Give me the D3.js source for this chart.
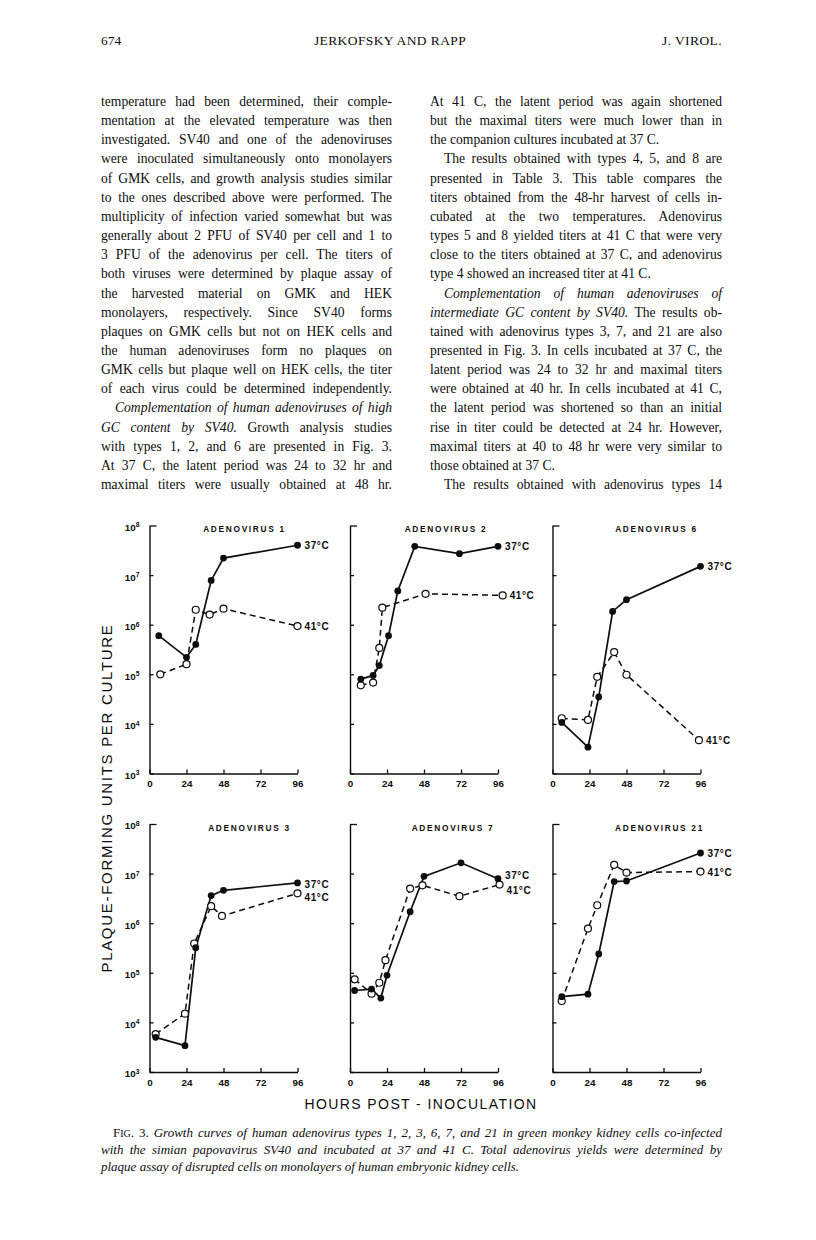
<!DOCTYPE html>
<html><head><meta charset="utf-8">
<script src="https://cdn.jsdelivr.net/npm/d3@7"></script>
<style>body{margin:0;background:#fff}svg{display:block}</style>
</head><body>
<svg id="page" width="816" height="1240"></svg>
<script>
// ---------------- DATA ----------------
const xTicks = [0, 24, 48, 72, 96];
const yTicks = [1e3, 1e4, 1e5, 1e6, 1e7, 1e8];
const panelTitles = ["ADENOVIRUS 1", "ADENOVIRUS 2", "ADENOVIRUS 6", "ADENOVIRUS 3", "ADENOVIRUS 7", "ADENOVIRUS 21"];
const seriesNames = ["37°C", "41°C"];

// [hours post-inoculation, PFU per culture]
const ad1_37 = [[6, 6e5], [24, 2.2e5], [30, 4e5], [40, 7.8e6], [48, 2.2e7], [96, 4e7]];
const ad1_41 = [[7, 1e5], [24, 1.6e5], [30, 2e6], [39, 1.6e6], [48, 2.1e6], [96, 9.4e5]];
const ad2_37 = [[7, 8e4], [15, 9.5e4], [19, 1.5e5], [25, 6e5], [31, 4.8e6], [42, 3.8e7], [71, 2.7e7], [96, 3.8e7]];
const ad2_41 = [[7, 6e4], [15, 6.8e4], [19, 3.4e5], [21, 2.2e6], [49, 4.2e6], [99, 3.9e6]];
const ad6_37 = [[6, 1.07e4], [23, 3.4e3], [30, 3.5e4], [39, 1.85e6], [48, 3.2e6], [96, 1.5e7]];
const ad6_41 = [[6, 1.3e4], [23, 1.2e4], [29, 8.9e4], [40, 2.8e5], [48, 9.8e4], [95, 4.7e3]];
const ad3_37 = [[4, 5e3], [23, 3.4e3], [30, 3.2e5], [40, 3.6e6], [48, 4.6e6], [96, 6.5e6]];
const ad3_41 = [[4, 5.8e3], [23, 1.5e4], [29, 3.9e5], [40, 2.2e6], [47, 1.4e6], [96, 4e6]];
const ad7_37 = [[3, 4.4e4], [14, 4.7e4], [20, 3.1e4], [24, 8.9e4], [39, 1.7e6], [48, 8.8e6], [72, 1.65e7], [96, 7.9e6]];
const ad7_41 = [[3, 7.4e4], [14, 3.8e4], [19, 6.3e4], [23, 1.8e5], [39, 5e6], [47, 5.8e6], [71, 3.5e6], [97, 6e6]];
const ad21_37 = [[6, 3.3e4], [23, 3.7e4], [30, 2.4e5], [40, 6.9e6], [48, 7.1e6], [96, 2.6e7]];
const ad21_41 = [[6, 2.7e4], [23, 7.8e5], [29, 2.3e6], [40, 1.5e7], [48, 1.05e7], [96, 1.1e7]];

const series37 = [ad1_37, ad2_37, ad6_37, ad3_37, ad7_37, ad21_37];
const series41 = [ad1_41, ad2_41, ad6_41, ad3_41, ad7_41, ad21_41];

// ---------------- TEXT ----------------
const headerLeft = "674", headerMid = "JERKOFSKY AND RAPP", headerRight = "J. VIROL.";
// segments: [text, style]  style: n normal, i italic
const leftCol = [
  [["temperature had been determined, their comple-", "n"]],
  [["mentation at the elevated temperature was then", "n"]],
  [["investigated. SV40 and one of the adenoviruses", "n"]],
  [["were inoculated simultaneously onto monolayers", "n"]],
  [["of GMK cells, and growth analysis studies similar", "n"]],
  [["to the ones described above were performed. The", "n"]],
  [["multiplicity of infection varied somewhat but was", "n"]],
  [["generally about 2 PFU of SV40 per cell and 1 to", "n"]],
  [["3 PFU of the adenovirus per cell. The titers of", "n"]],
  [["both viruses were determined by plaque assay of", "n"]],
  [["the harvested material on GMK and HEK", "n"]],
  [["monolayers, respectively. Since SV40 forms", "n"]],
  [["plaques on GMK cells but not on HEK cells and", "n"]],
  [["the human adenoviruses form no plaques on", "n"]],
  [["GMK cells but plaque well on HEK cells, the titer", "n"]],
  [["of each virus could be determined independently.", "n"]],
  [["Complementation of human adenoviruses of high", "i"]],
  [["GC content by SV40.", "i"], [" Growth analysis studies", "n"]],
  [["with types 1, 2, and 6 are presented in Fig. 3.", "n"]],
  [["At 37 C, the latent period was 24 to 32 hr and", "n"]],
  [["maximal titers were usually obtained at 48 hr.", "n"]]
];
const leftIndent = [16];
const leftNoJust = [];
const rightCol = [
  [["At 41 C, the latent period was again shortened", "n"]],
  [["but the maximal titers were much lower than in", "n"]],
  [["the companion cultures incubated at 37 C.", "n"]],
  [["The results obtained with types 4, 5, and 8 are", "n"]],
  [["presented in Table 3. This table compares the", "n"]],
  [["titers obtained from the 48-hr harvest of cells in-", "n"]],
  [["cubated at the two temperatures. Adenovirus", "n"]],
  [["types 5 and 8 yielded titers at 41 C that were very", "n"]],
  [["close to the titers obtained at 37 C, and adenovirus", "n"]],
  [["type 4 showed an increased titer at 41 C.", "n"]],
  [["Complementation of human adenoviruses of", "i"]],
  [["intermediate GC content by SV40.", "i"], [" The results ob-", "n"]],
  [["tained with adenovirus types 3, 7, and 21 are also", "n"]],
  [["presented in Fig. 3. In cells incubated at 37 C, the", "n"]],
  [["latent period was 24 to 32 hr and maximal titers", "n"]],
  [["were obtained at 40 hr. In cells incubated at 41 C,", "n"]],
  [["the latent period was shortened so than an initial", "n"]],
  [["rise in titer could be detected at 24 hr. However,", "n"]],
  [["maximal titers at 40 to 48 hr were very similar to", "n"]],
  [["those obtained at 37 C.", "n"]],
  [["The results obtained with adenovirus types 14", "n"]]
];
const rightIndent = [3, 10, 20];
const rightNoJust = [2, 9, 19];
const xAxisTitle = "HOURS POST - INOCULATION";
const yAxisTitle = "PLAQUE-FORMING UNITS PER CULTURE";
const caption = [
  [["F", "n"], ["IG", "sc"], [". 3. ", "n"], ["Growth curves of human adenovirus types 1, 2, 3, 6, 7, and 21 in green monkey kidney cells co-infected", "i"]],
  [["with the simian papovavirus SV40 and incubated at 37 and 41 C. Total adenovirus yields were determined by", "i"]],
  [["plaque assay of disrupted cells on monolayers of human embryonic kidney cells.", "i"]]
];

// ---------------- DRAW ----------------
const svg = d3.select("#page");
const ink = "#0d0d0d";
const serif = "'Liberation Serif','Times New Roman',serif";
const sans = "'Liberation Sans',Arial,sans-serif";

svg.append("rect").attr("width", 816).attr("height", 1240).attr("fill", "#fff");

// header
const hdr = svg.append("g").attr("font-family", serif).attr("font-size", 13.5).attr("fill", ink);
hdr.append("text").attr("x", 101).attr("y", 45).text(headerLeft);
hdr.append("text").attr("x", 390).attr("y", 45).attr("text-anchor", "middle").attr("letter-spacing", 0.4).text(headerMid);
hdr.append("text").attr("x", 722).attr("y", 45).attr("text-anchor", "end").attr("letter-spacing", 0.4).text(headerRight);

function drawBlock(lines, x, y0, width, lh, fs, indents, noJust) {
  const g = svg.append("g").attr("font-family", serif).attr("font-size", fs).attr("fill", ink);
  lines.forEach((segs, i) => {
    const ind = indents.includes(i) ? 14 : 0;
    const t = g.append("text").attr("x", x + ind).attr("y", y0 + i * lh);
    let full = "";
    segs.forEach(([s, st]) => {
      const sp = t.append("tspan").text(s);
      if (st === "i") sp.attr("font-style", "italic");
      full += s;
    });
    const nat = t.node().getComputedTextLength();
    const spaces = (full.match(/ /g) || []).length;
    if (!noJust.includes(i) && spaces > 0) {
      t.attr("word-spacing", ((width - ind) - nat) / spaces);
    }
  });
}
const LH = 19.15;
drawBlock(leftCol, 101, 106, 291, LH, 13.6, leftIndent, leftNoJust);
drawBlock(rightCol, 430, 106, 292, LH, 13.6, rightIndent, rightNoJust);

// panels
const colX = [149.5, 350, 552.5];
const rowTop = [525.5, 824];
const pw = 148, ph = 248;
const titleOffset = [95, 96, 104, 100, 103, 107];
const labelShift = [[0, 0], [0, 0], [0, 0], [2, 4], [-3, 6], [0, 1]];

function supLabel(sel) {
  sel.each(function (d) {
    const t = d3.select(this);
    t.text(null);
    t.append("tspan").text("10");
    t.append("tspan").attr("dy", "-0.5em").attr("font-size", "0.7em").text(Math.round(Math.log10(d)));
  });
}

panelTitles.forEach((title, p) => {
  const col = p % 3, row = Math.floor(p / 3);
  const g = svg.append("g").attr("transform", `translate(${colX[col]},${rowTop[row]})`);
  const x = d3.scaleLinear().domain([0, 96]).range([0, pw]);
  const y = d3.scaleLog().domain([1e3, 1e8]).range([ph, 0]);

  const ya = g.append("g").call(d3.axisLeft(y).tickValues(yTicks).tickSizeInner(-4).tickSizeOuter(0).tickPadding(10)
    .tickFormat(col === 0 ? d => d : () => ""));
  ya.selectAll("text").attr("font-family", sans).attr("font-size", 9.8).attr("font-weight", "bold").attr("fill", ink).attr("dy", "0.5em");
  if (col === 0) supLabel(ya.selectAll(".tick text"));
  // longer top tick (10^8)
  ya.selectAll(".tick").filter(d => d === 1e8).select("line").attr("x2", 7);
  const xa = g.append("g").attr("transform", `translate(0,${ph})`)
    .call(d3.axisBottom(x).tickValues(xTicks).tickSizeInner(-4).tickSizeOuter(0).tickPadding(7));
  [ya, xa].forEach(a => {
    a.select(".domain").attr("stroke", ink).attr("stroke-width", 1.4);
    a.selectAll(".tick line").attr("stroke", ink).attr("stroke-width", 1.3);
  });
  xa.selectAll("text").attr("font-family", sans).attr("font-size", 9.8).attr("font-weight", "bold").attr("fill", ink);

  g.append("text").attr("x", titleOffset[p]).attr("y", row === 0 ? 6 : 7)
    .attr("text-anchor", "middle").attr("font-family", sans).attr("font-size", 8.3).attr("font-weight", "bold")
    .attr("letter-spacing", 1.7).attr("fill", ink).text(title);

  const line = d3.line().x(d => x(d[0])).y(d => y(d[1]));
  g.append("path").datum(series41[p]).attr("d", line).attr("fill", "none").attr("stroke", ink)
    .attr("stroke-width", 1.5).attr("stroke-dasharray", "6,4");
  g.append("path").datum(series37[p]).attr("d", line).attr("fill", "none").attr("stroke", ink)
    .attr("stroke-width", 1.7);
  g.selectAll(".o").data(series41[p]).join("circle").attr("cx", d => x(d[0])).attr("cy", d => y(d[1]))
    .attr("r", 3.5).attr("fill", "#fff").attr("stroke", ink).attr("stroke-width", 1.2);
  g.selectAll(".f").data(series37[p]).join("circle").attr("cx", d => x(d[0])).attr("cy", d => y(d[1]))
    .attr("r", 3.4).attr("fill", ink);

  [series37[p], series41[p]].forEach((s, k) => {
    const last = s[s.length - 1];
    g.append("text").attr("x", x(last[0]) + 7).attr("y", y(last[1]) + labelShift[p][k]).attr("dy", "0.36em")
      .attr("font-family", sans).attr("font-size", 10).attr("font-weight", "bold").attr("fill", ink)
      .attr("letter-spacing", 0.6).text(seriesNames[k]);
  });
});

// axis titles
svg.append("text").attr("transform", "translate(112,798) rotate(-90)").attr("text-anchor", "middle")
  .attr("font-family", sans).attr("font-size", 15).attr("letter-spacing", 1.7).attr("fill", ink).text(yAxisTitle);
svg.append("text").attr("x", 421).attr("y", 1109).attr("text-anchor", "middle")
  .attr("font-family", sans).attr("font-size", 14).attr("font-weight", 500).attr("letter-spacing", 1.4).attr("fill", ink).text(xAxisTitle);

// caption
(function () {
  const g = svg.append("g").attr("font-family", serif).attr("font-size", 13).attr("fill", ink);
  const xs = [113, 101, 101], ys = [1137, 1154, 1171];
  caption.forEach((segs, i) => {
    const t = g.append("text").attr("x", xs[i]).attr("y", ys[i]);
    let full = "";
    segs.forEach(([s, st]) => {
      const sp = t.append("tspan").text(s);
      if (st === "i") sp.attr("font-style", "italic");
      if (st === "sc") sp.attr("font-size", 10);
      full += s;
    });
    if (i < 2) {
      const nat = t.node().getComputedTextLength();
      const spaces = (full.match(/ /g) || []).length;
      t.attr("word-spacing", ((722 - xs[i]) - nat) / spaces);
    }
  });
})();
</script>
</body></html>
